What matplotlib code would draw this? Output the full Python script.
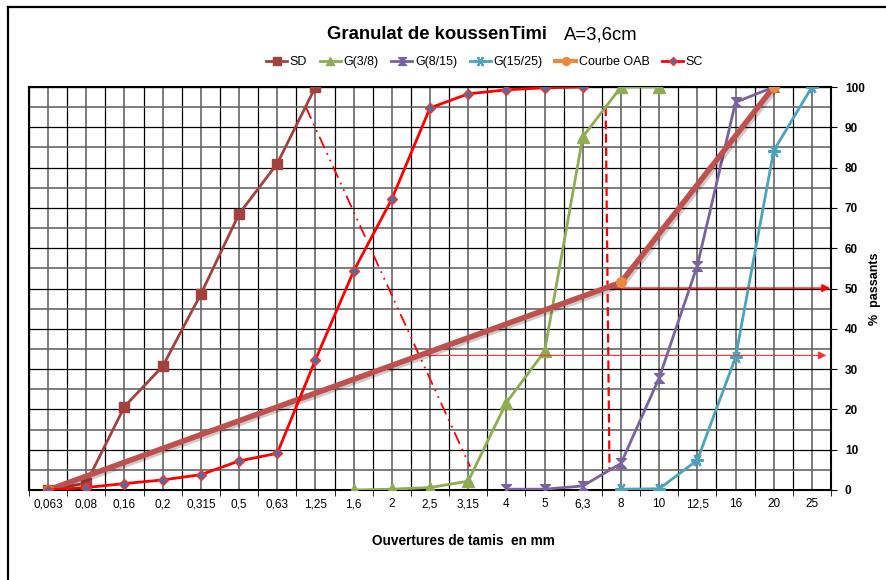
import matplotlib.pyplot as plt
import matplotlib.patheffects as pe
from matplotlib.lines import Line2D
from matplotlib.path import Path
import numpy as np

plt.rcParams['font.family'] = ['Liberation Sans', 'DejaVu Sans']

tamis = ['0,063', '0,08', '0,16', '0,2', '0,315', '0,5', '0,63', '1,25', '1,6', '2',
         '2,5', '3,15', '4', '5', '6,3', '8', '10', '12,5', '16', '20', '25']
nan = np.nan
sd = [0, 1.7, 20.7, 30.7, 48.6, 68.5, 81.0, 100] + [nan] * 13
g38 = [nan] * 8 + [0, 0.2, 0.6, 2.2, 21.7, 34.4, 87.6, 100, 100] + [nan] * 4
g815 = [nan] * 12 + [0.2, 0.2, 1.0, 6.6, 27.8, 55.7, 96.2, 100, nan]
g1525 = [nan] * 15 + [0.2, 0.3, 7.4, 32.9, 84.2, 100]
sc = [0, 0.6, 1.6, 2.5, 3.8, 7.2, 9.1, 32.3, 54.3, 72.2, 94.8, 98.3, 99.3, 99.8, 100] + [nan] * 6
oab_x = [0, 15, 19]
oab_y = [0, 51.5, 100]

x = np.arange(len(tamis))

fig = plt.figure(figsize=(8.86, 5.8), dpi=100)
ax = fig.add_axes([29 / 886, 1 - 490 / 580, 802 / 886, 403 / 580])
ax.set_xlim(-0.5, len(tamis) - 0.5)
ax.set_ylim(0, 100)

# quadrillage : demi-intervalles en x, pas de 5 en y
for xv in np.arange(-0.5, 20.6, 0.5):
    c = 'black' if xv % 1 else '#666666'
    ax.axvline(xv, color=c, lw=0.9 if xv % 1 else 1.2, zorder=0)
for yv in range(0, 101, 5):
    c = 'black' if yv % 10 == 0 else '#666666'
    ax.axhline(yv, color=c, lw=0.9 if yv % 10 == 0 else 1.2, zorder=0)

hourglass = Path([(-1, 1), (1, 1), (-1, -1), (1, -1), (-1, 1)], closed=True)

ax.plot(x, sd, color='#A5413D', lw=2, marker='s', ms=7, label='SD', zorder=3)
ax.plot(x, g38, color='#8EAD50', lw=2, marker='^', ms=8, label='G(3/8)', zorder=3)
ax.plot(x, g815, color='#7962A0', lw=2, marker=hourglass, ms=7, label='G(8/15)', zorder=3)
ax.plot(x, g1525, color='#4BA3BC', lw=2, marker=(6, 2, 90), ms=9, mew=1.5,
        label='G(15/25)', zorder=3)

# courbe OAB : trait épais avec ombre, marqueurs orange
ax.plot(oab_x, oab_y, color='#C0504D', lw=4, zorder=4, solid_capstyle='butt',
        path_effects=[pe.SimpleLineShadow(offset=(1.5, -1.5), alpha=0.2), pe.Normal()])
ax.plot(oab_x, oab_y, ls='none', marker='o', ms=7, color='#EB8A3C', zorder=5)
oab_handle = Line2D([], [], color='#EB8A3C', lw=3, marker='o', ms=7)

ax.plot(x, sc, color='#FF0000', lw=2, marker='D', ms=5.5, mfc='#4F6E9E', mec='#FF3030',
        label='SC', zorder=6)

# constructions en rouge
ax.plot([6.75, 11.05], [95, 5.8], color='red', lw=1.3, ls=(0, (7, 3, 1, 3, 1, 3)), zorder=2)
ax.plot([14.6, 14.7], [95, 5], color='red', lw=1.6, ls=(0, (4, 2)), zorder=2)
ax.annotate('', xy=(20.55, 50.1), xytext=(14.65, 50.1), annotation_clip=False,
            arrowprops=dict(arrowstyle='-|>', color='red', lw=1, mutation_scale=12))
ax.annotate('', xy=(20.45, 33.4), xytext=(9.74, 33.4), annotation_clip=False,
            arrowprops=dict(arrowstyle='-|>', color='#FF3030', lw=0.8, mutation_scale=12))

ax.set_xticks(x)
ax.set_xticklabels(tamis, fontsize=8.5)
ax.set_xticks(np.arange(-0.5, 20.6, 1), minor=True)
ax.tick_params(axis='x', which='major', length=0, pad=6)
ax.tick_params(axis='x', which='minor', length=4, direction='out')

ax.yaxis.tick_right()
ax.set_yticks(range(0, 101, 10))
ax.tick_params(axis='y', length=4, direction='out', labelsize=8.5, pad=6)
for t in ax.get_yticklabels():
    t.set_fontweight('bold')
ax.yaxis.set_label_position('right')
ax.set_ylabel('%  passants', fontsize=9, fontweight='bold', labelpad=3)

for s in ax.spines.values():
    s.set_linewidth(1.5)

ax.set_xlabel('Ouvertures de tamis  en mm', fontsize=9.8, fontweight='bold')
ax.xaxis.set_label_coords(0.542, -0.11)

fig.text(0.617, 0.94, 'Granulat de koussenTimi', fontsize=13.3, fontweight='bold',
         ha='right', va='center')
fig.text(0.678, 0.94, 'A=3,6cm', fontsize=13.3, ha='center', va='center')

handles, labels = ax.get_legend_handles_labels()
handles.insert(4, oab_handle)
labels.insert(4, 'Courbe OAB')
fig.legend(handles, labels, loc='center', bbox_to_anchor=(0.547, 1 - 62 / 580), ncol=6,
           frameon=False, fontsize=9, handlelength=1.7, handletextpad=0.2,
           columnspacing=1.0, markerscale=0.8)

# cadre du graphique
fig.add_artist(Line2D([8 / 886, 8 / 886], [0, 1 - 7 / 580], color='black', lw=1.6))
fig.add_artist(Line2D([8 / 886, 1], [1 - 7 / 580, 1 - 7 / 580], color='black', lw=1.6))

fig.savefig('out.png', dpi=100)
